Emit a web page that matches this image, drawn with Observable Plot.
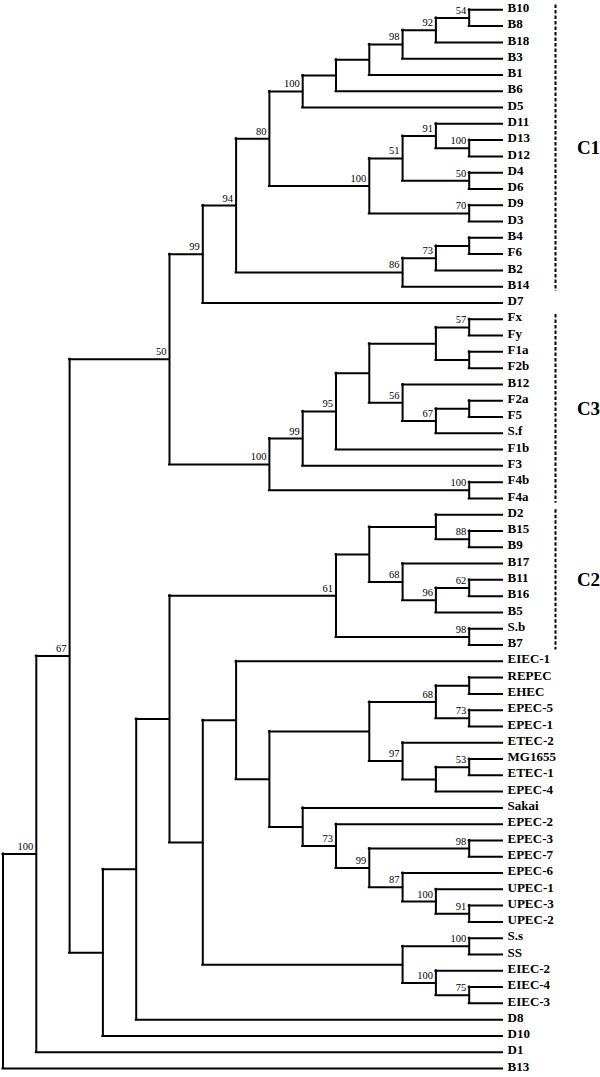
<!DOCTYPE html>
<html>
<head>
<meta charset="utf-8">
<script src="https://cdn.jsdelivr.net/npm/d3@7"></script>
<script src="https://cdn.jsdelivr.net/npm/@observablehq/plot@0.6"></script>
<style>
  html, body { margin: 0; padding: 0; background: #fff; }
  #chart svg { display: block; background: #fff; }
</style>
</head>
<body>
<div id="chart"></div>
<script>
// ---- Data ----
const leafNames = ["B10","B8","B18","B3","B1","B6","D5","D11","D13","D12","D4","D6","D9","D3","B4","F6","B2","B14","D7",
  "Fx","Fy","F1a","F2b","B12","F2a","F5","S.f","F1b","F3","F4b","F4a",
  "D2","B15","B9","B17","B11","B16","B5","S.b","B7",
  "EIEC-1","REPEC","EHEC","EPEC-5","EPEC-1","ETEC-2","MG1655","ETEC-1","EPEC-4","Sakai","EPEC-2","EPEC-3","EPEC-7","EPEC-6",
  "UPEC-1","UPEC-3","UPEC-2","S.s","SS","EIEC-2","EIEC-4","EIEC-3","D8","D10","D1","B13"];
const leafParents = ["n10b","n10b","n10a","n10","n9","n8","n7","n13","n13a","n13a","n14","n14","n15","n15","n18","n18","n17","n16","n4",
  "n24a","n24a","n24b","n24b","n26","n28","n28","n27","n22","n21","n29","n29",
  "n35","n36","n36","n37","n38a","n38a","n38","n39","n39",
  "n41","n44a","n44a","n45","n45","n46","n48","n48","n47","n49","n50","n52","n52","n53",
  "n54","n54a","n54a","n56","n56","n57","n58","n58","n31","n30","n1","root"];

const nodeIds =     ["root","n1","n2","n3","n4","n5","n6","n7","n8","n9","n10","n10a","n10b","n11","n12","n13","n13a","n14","n15","n16","n17","n18",
  "n20","n21","n22","n23","n24","n24a","n24b","n26","n27","n28","n29",
  "n30","n31","n32","n33","n34","n35","n36","n37","n38","n38a","n39",
  "n40","n41","n42","n43","n44","n44a","n45","n46","n47","n48","n49","n50","n51","n52","n53","n54","n54a","n55","n56","n57","n58"];
const nodeParents = [null,"root","n1","n2","n3","n4","n5","n6","n7","n8","n9","n10","n10a","n6","n11","n12","n13","n12","n11","n5","n16","n17",
  "n3","n20","n21","n22","n23","n24","n24","n23","n26","n27","n20",
  "n2","n30","n31","n32","n33","n34","n35","n34","n37","n38","n33",
  "n32","n40","n41","n42","n43","n44","n44","n43","n46","n47","n42","n49","n50","n51","n51","n53","n54","n40","n55","n55","n57"];
const nodeLevels =  [0,1,2,5,6,7,8,9,10,11,12,13,14,11,12,13,14,14,14,12,13,14,
  8,9,10,11,13,14,14,12,13,14,14,
  3,4,5,10,11,13,14,12,13,14,14,
  6,7,8,11,13,14,14,12,13,14,9,10,11,14,12,13,14,12,14,13,14];
const nodeSupport = [null,100,67,50,99,94,80,100,null,null,98,92,54,100,51,91,100,50,70,86,73,null,
  100,99,95,null,null,57,null,56,67,null,100,
  null,null,null,61,null,null,88,68,96,62,98,
  null,null,null,null,68,null,73,97,null,53,null,73,99,98,87,100,91,null,100,100,75];
const leafLevel = 15;

const cladeNames = ["C1","C3","C2"];
const cladeFirst = ["B10","Fx","D2"];
const cladeLast  = ["B14","F4a","B7"];

// ---- Layout (tree structure -> rows/levels) ----
const levelOf = new Map(nodeIds.map((id, i) => [id, nodeLevels[i]]));
const children = new Map(nodeIds.map(id => [id, []]));
const yOf = new Map();
leafNames.forEach((name, i) => { yOf.set("leaf:" + name, i); children.get(leafParents[i]).push("leaf:" + name); });
nodeIds.forEach((id, i) => { if (nodeParents[i]) children.get(nodeParents[i]).push(id); });
function nodeY(id) {
  if (yOf.has(id)) return yOf.get(id);
  const ys = children.get(id).map(nodeY);
  const y = (d3.min(ys) + d3.max(ys)) / 2;
  yOf.set(id, y);
  return y;
}
nodeY("root");

const hSegs = [];
const vSegs = [];
leafNames.forEach((name, i) => hSegs.push({x1: levelOf.get(leafParents[i]), x2: leafLevel, y: i}));
nodeIds.forEach((id, i) => {
  if (nodeParents[i]) hSegs.push({x1: levelOf.get(nodeParents[i]), x2: nodeLevels[i], y: yOf.get(id)});
  const ys = children.get(id).map(c => yOf.get(c));
  vSegs.push({x: nodeLevels[i], y1: d3.min(ys), y2: d3.max(ys)});
});
const supportLabels = nodeIds.map((id, i) => ({x: nodeLevels[i], y: yOf.get(id), s: nodeSupport[i]})).filter(d => d.s != null);
const leaves = leafNames.map((name, i) => ({name, y: i}));
const clades = cladeNames.map((name, i) => ({
  name, y1: leafNames.indexOf(cladeFirst[i]), y2: leafNames.indexOf(cladeLast[i])
}));

const serif = "'Liberation Serif', 'Times New Roman', serif";

const chart = Plot.plot({
  width: 600,
  height: 1077,
  margin: 0,
  x: {domain: [0, 15], range: [2.5, 502], axis: null},
  y: {domain: [0, 65], range: [9.3, 1068], axis: null},
  style: {background: "#fff"},
  marks: [
    Plot.ruleY(hSegs, {y: "y", x1: "x1", x2: "x2", stroke: "#000", strokeWidth: 2, strokeLinecap: "square"}),
    Plot.ruleX(vSegs, {x: "x", y1: "y1", y2: "y2", stroke: "#000", strokeWidth: 2, strokeLinecap: "square"}),
    Plot.text(supportLabels, {x: "x", y: "y", text: d => String(d.s), textAnchor: "end", lineAnchor: "bottom",
      dx: -3, dy: -4, fontSize: 10.5, fontFamily: serif, fill: "#000"}),
    Plot.text(leaves, {x: () => leafLevel, y: "y", text: "name", textAnchor: "start", dx: 5, dy: -2,
      fontSize: 13, fontWeight: "bold", fontFamily: serif, fill: "#000"}),
    Plot.ruleX(clades, {x: () => leafLevel, y1: d => d.y1 - 0.3, y2: d => d.y2 + 0.3, dx: 53,
      stroke: "#000", strokeWidth: 2, strokeDasharray: "3.5,2"}),
    Plot.text(clades, {x: () => leafLevel, y: d => (d.y1 + d.y2) / 2, text: "name", dx: 86, textAnchor: "middle",
      fontSize: 19, fontWeight: "bold", fontFamily: serif, fill: "#000"})
  ]
});
document.getElementById("chart").append(chart);
</script>
</body>
</html>
